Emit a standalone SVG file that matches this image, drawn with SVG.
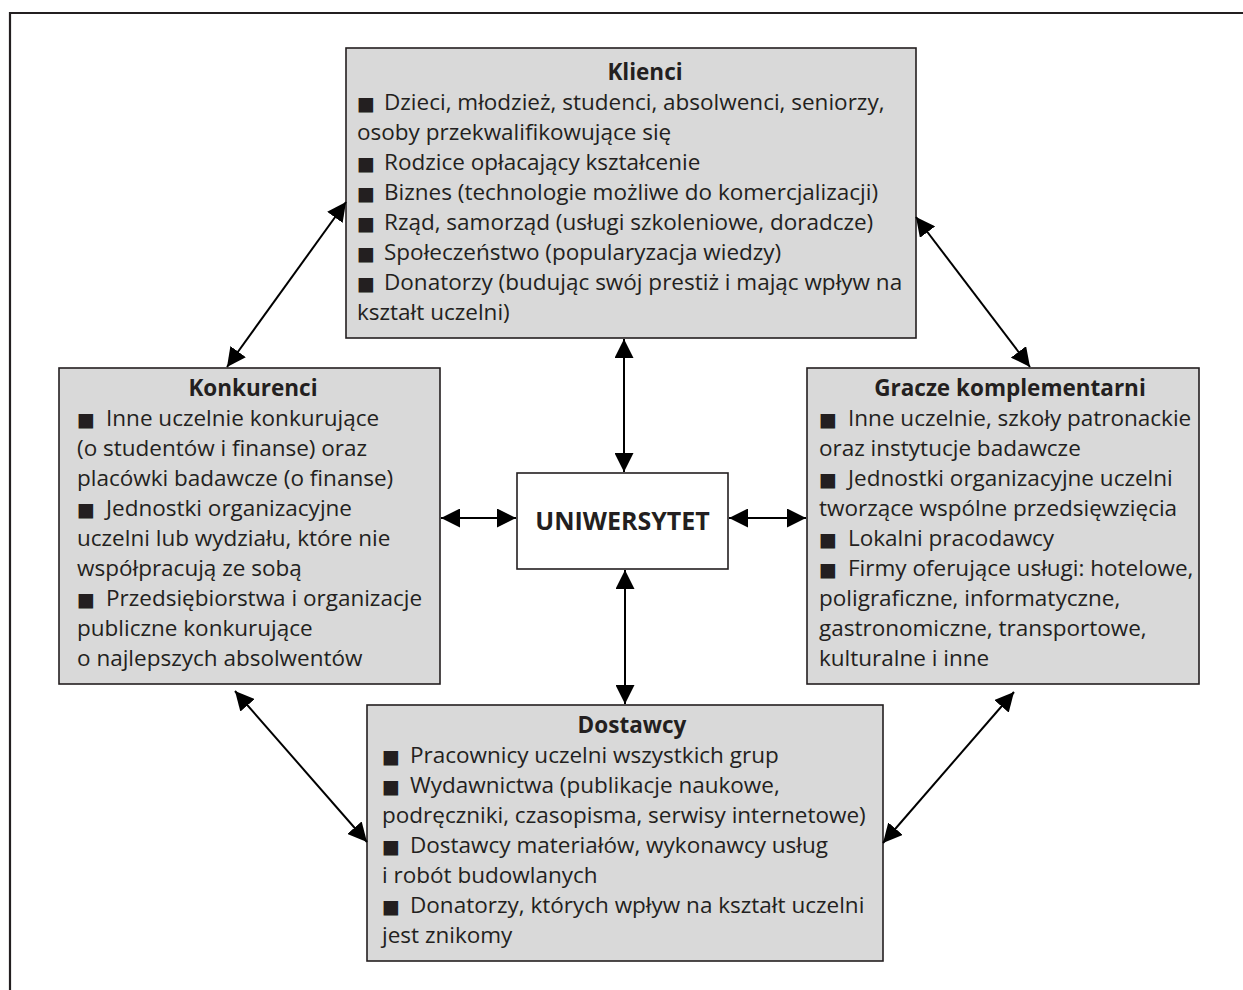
<svg xmlns="http://www.w3.org/2000/svg" width="1243" height="990" viewBox="0 0 1243 990">
<style>
.box{fill:#d9d9d9;stroke:#231f20;stroke-width:1.6}
.ubox{fill:#ffffff;stroke:#231f20;stroke-width:1.6}
.t{font-family:"Open Sans","Liberation Sans",sans-serif;font-size:22.5px;fill:#231f20}
.h{font-weight:bold;text-anchor:middle}
.u{font-family:"Open Sans","Liberation Sans",sans-serif;font-size:25px;font-weight:bold;fill:#231f20;text-anchor:middle}
.b{font-family:"DejaVu Sans",sans-serif;font-size:19px}
.c{stroke:#000;stroke-width:2;fill:none;marker-start:url(#ah);marker-end:url(#ah)}
.frame{fill:none;stroke:#231f20;stroke-width:2.2}
</style>
<defs>
<marker id="ah" viewBox="0 0 19 19" refX="19" refY="9.5" markerWidth="19" markerHeight="19" orient="auto-start-reverse" markerUnits="userSpaceOnUse">
<path d="M0,0 L19,9.5 L0,19 z" fill="#000"/>
</marker>
</defs>
<rect x="0" y="0" width="1243" height="990" fill="#fff"/>
<path class="frame" d="M10,990 V13 H1243"/>

<g id="klienci">
<rect class="box" x="346" y="48" width="570" height="290"/>
<text class="t h" x="645" y="80">Klienci</text>
<text class="t" x="357" y="110"><tspan class="b">■</tspan><tspan x="384">Dzieci, młodzież, studenci, absolwenci, seniorzy,</tspan></text>
<text class="t" x="357" y="140">osoby przekwalifikowujące się</text>
<text class="t" x="357" y="170"><tspan class="b">■</tspan><tspan x="384">Rodzice opłacający kształcenie</tspan></text>
<text class="t" x="357" y="200"><tspan class="b">■</tspan><tspan x="384">Biznes (technologie możliwe do komercjalizacji)</tspan></text>
<text class="t" x="357" y="230"><tspan class="b">■</tspan><tspan x="384">Rząd, samorząd (usługi szkoleniowe, doradcze)</tspan></text>
<text class="t" x="357" y="260"><tspan class="b">■</tspan><tspan x="384">Społeczeństwo (popularyzacja wiedzy)</tspan></text>
<text class="t" x="357" y="290"><tspan class="b">■</tspan><tspan x="384">Donatorzy (budując swój prestiż i mając wpływ na</tspan></text>
<text class="t" x="357" y="320">kształt uczelni)</text>
</g>

<g id="konkurenci">
<rect class="box" x="59" y="368" width="381" height="316"/>
<text class="t h" x="253" y="396">Konkurenci</text>
<text class="t" x="77" y="426"><tspan class="b">■</tspan><tspan x="106">Inne uczelnie konkurujące</tspan></text>
<text class="t" x="77" y="456">(o studentów i finanse) oraz</text>
<text class="t" x="77" y="486">placówki badawcze (o finanse)</text>
<text class="t" x="77" y="516"><tspan class="b">■</tspan><tspan x="106">Jednostki organizacyjne</tspan></text>
<text class="t" x="77" y="546">uczelni lub wydziału, które nie</text>
<text class="t" x="77" y="576">współpracują ze sobą</text>
<text class="t" x="77" y="606"><tspan class="b">■</tspan><tspan x="106">Przedsiębiorstwa i organizacje</tspan></text>
<text class="t" x="77" y="636">publiczne konkurujące</text>
<text class="t" x="77" y="666">o najlepszych absolwentów</text>
</g>

<g id="uniwersytet">
<rect class="ubox" x="517" y="473" width="211" height="96"/>
<text class="u" x="622.5" y="530">UNIWERSYTET</text>
</g>

<g id="gracze">
<rect class="box" x="807" y="368" width="392" height="316"/>
<text class="t h" x="1010" y="396">Gracze komplementarni</text>
<text class="t" x="819" y="426"><tspan class="b">■</tspan><tspan x="848">Inne uczelnie, szkoły patronackie</tspan></text>
<text class="t" x="819" y="456">oraz instytucje badawcze</text>
<text class="t" x="819" y="486"><tspan class="b">■</tspan><tspan x="848">Jednostki organizacyjne uczelni</tspan></text>
<text class="t" x="819" y="516">tworzące wspólne przedsięwzięcia</text>
<text class="t" x="819" y="546"><tspan class="b">■</tspan><tspan x="848">Lokalni pracodawcy</tspan></text>
<text class="t" x="819" y="576"><tspan class="b">■</tspan><tspan x="848">Firmy oferujące usługi: hotelowe,</tspan></text>
<text class="t" x="819" y="606">poligraficzne, informatyczne,</text>
<text class="t" x="819" y="636">gastronomiczne, transportowe,</text>
<text class="t" x="819" y="666">kulturalne i inne</text>
</g>

<g id="dostawcy">
<rect class="box" x="367" y="705" width="516" height="256"/>
<text class="t h" x="632" y="733">Dostawcy</text>
<text class="t" x="382" y="763"><tspan class="b">■</tspan><tspan x="410">Pracownicy uczelni wszystkich grup</tspan></text>
<text class="t" x="382" y="793"><tspan class="b">■</tspan><tspan x="410">Wydawnictwa (publikacje naukowe,</tspan></text>
<text class="t" x="382" y="823">podręczniki, czasopisma, serwisy internetowe)</text>
<text class="t" x="382" y="853"><tspan class="b">■</tspan><tspan x="410">Dostawcy materiałów, wykonawcy usług</tspan></text>
<text class="t" x="382" y="883">i robót budowlanych</text>
<text class="t" x="382" y="913"><tspan class="b">■</tspan><tspan x="410">Donatorzy, których wpływ na kształt uczelni</tspan></text>
<text class="t" x="382" y="943">jest znikomy</text>
</g>

<g id="connectors">
<line class="c" x1="624" y1="339" x2="624" y2="472"/>
<line class="c" x1="625" y1="570" x2="625" y2="704"/>
<line class="c" x1="441" y1="518" x2="516" y2="518"/>
<line class="c" x1="729" y1="518" x2="806" y2="518"/>
<line class="c" x1="346" y1="202" x2="227" y2="367"/>
<line class="c" x1="916" y1="217" x2="1030" y2="367"/>
<line class="c" x1="235" y1="691" x2="367" y2="842"/>
<line class="c" x1="1014" y1="692" x2="883" y2="843"/>
</g>
</svg>
